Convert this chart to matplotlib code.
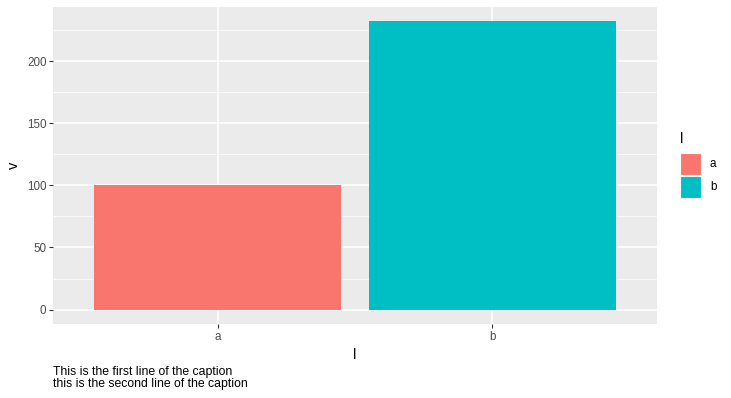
import numpy as np
import matplotlib.pyplot as plt
from matplotlib.patches import Rectangle

plt.rcParams["font.family"] = ["Liberation Sans", "DejaVu Sans"]

categories = ["a", "b"]
values = [100, 232]
colors = ["#F8766D", "#00BFC4"]
y_ticks = [0, 50, 100, 150, 200]
y_minor = [25, 75, 125, 175, 225]
caption = "This is the first line of the caption\nthis is the second line of the caption"

W, H = 731, 398
fig = plt.figure(figsize=(W / 100, H / 100), dpi=100)


def px(xp, yp):
    # pixel coords (from top-left) -> figure fraction
    return xp / W, 1 - yp / H


# panel position in pixels
left, right, top, bottom = 53, 657, 7, 324
ax = fig.add_axes([left / W, 1 - bottom / H, (right - left) / W, (bottom - top) / H])
ax.set_facecolor("#EBEBEB")

x = np.arange(1, len(categories) + 1)
ax.bar(x, values, width=0.9, color=colors, zorder=3)

ymax = max(values)
ax.set_ylim(-0.05 * ymax, 1.05 * ymax)
ax.set_xlim(0.4, len(categories) + 0.6)

ax.set_xticks(x)
ax.set_xticklabels(categories)
ax.set_yticks(y_ticks)
ax.set_yticks(y_minor, minor=True)

ax.grid(which="major", color="white", linewidth=1.1, zorder=1)
ax.grid(which="minor", axis="y", color="white", linewidth=0.55, zorder=1)
for s in ax.spines.values():
    s.set_visible(False)

ax.tick_params(axis="both", which="major", length=2.7, width=0.8, color="#333333",
               labelcolor="#4D4D4D", labelsize=8.4, pad=2)
ax.tick_params(axis="y", which="minor", length=0)

ax.set_xlabel("l", fontsize=10.5, labelpad=4)
ax.set_ylabel("v", fontsize=10.5, labelpad=4)

# legend drawn by hand so the keys get ggplot's size
fig.text(*px(680, 139), "l", fontsize=10.5, ha="left", va="center")
key_w, key_h = 21, 22
for i, (c, lab) in enumerate(zip(colors, categories)):
    y0 = 153 + i * (key_h + 1)
    fx, fy = px(680, y0 + key_h)
    fig.patches.append(Rectangle((fx, fy), key_w / W, key_h / H, transform=fig.transFigure,
                                 facecolor=c, edgecolor="white", linewidth=0.8))
    fig.text(*px(710, y0 + key_h / 2), lab, fontsize=8.4, ha="left", va="center")

fig.text(*px(left, 366), caption, ha="left", va="top", fontsize=8.8,
         color="black", linespacing=1.0)

fig.savefig("out.png", dpi=100)
